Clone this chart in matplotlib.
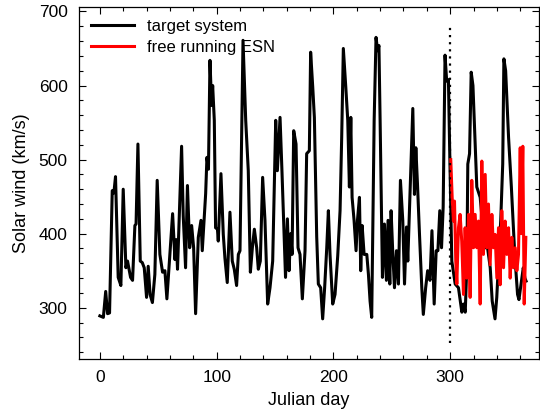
import matplotlib
matplotlib.use("Agg")
import matplotlib.pyplot as plt
from matplotlib.ticker import MultipleLocator

plt.rcParams['font.family'] = ['Liberation Sans', 'DejaVu Sans']

# target system (days, km/s)
days = [0, 3, 5, 6.6, 8.3, 10.6, 12, 13.4, 14.6, 15.7, 18, 20, 22.3, 23.7, 26.3, 28,
        30, 31, 32.6, 34.6, 36.3, 38, 40, 41.4, 43, 45, 47.1, 49.1, 51.4, 53.7, 55.7,
        57.4, 60, 62.3, 64.3, 65.5, 66.5, 70, 71.4, 73.4, 75, 76.9, 78.6, 80.3, 82,
        84.3, 86.6, 87.7, 90.6, 91.7, 93, 94.3, 95.7, 96.6, 98, 99.1, 100.7, 101.4,
        103.7, 105.7, 107.1, 109.1, 111.4, 113.4, 115.1, 117.1, 118.6, 120, 122.6,
        124.9, 127.1, 128.9, 130.6, 132.3, 134.3, 135.7, 137.4, 139.4, 141.4, 143.7,
        145.7, 148, 150.6, 152, 154.3, 156, 157.7, 159, 160.6, 162, 163.4, 164.6, 166,
        168, 169.7, 171.4, 173.4, 175.7, 177.1, 179.4, 180.5, 182.3, 183.7, 185.7,
        187.1, 189.1, 190.8, 192.5, 194.3, 195.7, 197.1, 199.4, 201.4, 203.7, 205.7,
        207.1, 208.5, 210.6, 212.3, 213.7, 214.9, 216, 217.7, 219.4, 220.6, 222.3,
        223.4, 224.6, 226.3, 228.6, 230, 231.4, 232.8, 234.9, 236.5, 237.9, 239, 240,
        242, 243.7, 245.4, 246.8, 248.3, 249.4, 250.9, 252.3, 254, 255.7, 257.4,
        259.4, 260.9, 262.6, 263.7, 268, 269.4, 270.6, 272, 273.7, 275.7, 277, 279,
        280.7, 282.7, 284.4, 286.3, 288, 289.5, 291.1, 292.6, 294, 295.6, 297, 298.5,
        299.5, 301.4, 304.3, 307.1, 310, 311.4, 312.9, 314.3, 315.1, 316.6, 318,
        319.5, 322.8, 325.7, 328, 330, 332, 334.3, 336, 338.4, 339.9, 341.6, 343.3,
        345, 346, 347.5, 350, 352.4, 355.3, 357.7, 358.9, 361.1, 362.6, 364, 365]
wind = [289, 287, 322, 292, 293, 458, 455, 477, 408, 341, 330, 460, 354, 363, 341, 337,
        411, 413, 521, 363, 361, 354, 314, 356, 318, 307, 345, 472, 372, 348, 350,
        312, 372, 427, 365, 392, 352, 518, 424, 354, 465, 381, 411, 381, 292,
        395, 418, 377, 454, 503, 487, 634, 573, 600, 553, 408, 406, 390,
        481, 399, 367, 334, 429, 363, 352, 330, 372, 377, 661,
        553, 485, 348, 381, 406, 381, 352, 363, 476, 418, 305,
        327, 363, 553, 485, 557, 482, 400, 341, 420, 350, 400, 372, 539,
        521, 381, 372, 312, 377, 508, 512, 645, 598, 557, 396,
        332, 327, 285, 327, 381, 431, 372, 305, 318, 370, 431,
        530, 650, 598, 553, 463, 557, 449, 418, 377, 418, 449,
        350, 411, 372, 372, 345, 309, 287, 553, 665, 647, 654, 553,
        341, 413, 337, 418, 332, 431, 372, 327, 377, 332, 472,
        418, 332, 409, 363, 569, 453, 516, 467, 400, 327, 291, 327,
        350, 337, 404, 305, 377, 377, 431, 381, 436, 641, 606, 608,
        520, 363, 332, 327, 294, 305, 294, 359, 494, 508, 618,
        600, 463, 449, 408, 381, 381, 354, 309, 285, 314, 368, 418,
        494, 636, 620, 530, 463, 372, 318, 311, 336, 354, 340, 336]

# free running ESN
esn_days = [300.5, 301.7, 302.8, 303.7, 304.8, 305.7, 307.1, 308.5, 309.9, 311.4, 312.8,
            314.2, 315.7, 317.1, 318.5, 320, 321.4, 322.8, 324.2, 325.7, 327.1, 328.5,
            330, 331.4, 332.8, 334.2, 335.7, 337.1, 338.5, 340, 341.4, 342.8, 344.2,
            345.7, 347.1, 348.5, 350, 351.4, 352.8, 354.2, 355.7, 357.1, 358.5, 360,
            360.8, 362.2, 363.4, 364.8]
esn_wind = [500, 449, 417, 444, 363, 332, 408, 426, 390, 318, 408, 340, 426, 314,
            472, 381, 426, 381, 417, 305, 498, 372, 480, 381, 440, 358, 426, 381,
            399, 340, 408, 331, 431, 354, 417, 372, 408, 340, 395, 354, 381, 350,
            372, 516, 400, 518, 305, 395]

split_day = 300

fig = plt.figure(figsize=(5.4, 4.12), dpi=100)
ax = fig.add_axes([0.146, 0.129, 0.852, 0.854])

ax.plot(days, wind, color='black', lw=2.2, label='target system')
ax.plot(esn_days, esn_wind, color='#ff0000', lw=2.2, label='free running ESN')
ax.plot([split_day, split_day], [252, 683], color='black', lw=1.6,
        linestyle=(0, (1, 2.2)))

ax.set_xlim(-18, 376)
ax.set_ylim(231, 706)
ax.xaxis.set_major_locator(MultipleLocator(100))
ax.xaxis.set_minor_locator(MultipleLocator(20))
ax.yaxis.set_major_locator(MultipleLocator(100))
ax.yaxis.set_minor_locator(MultipleLocator(20))
ax.tick_params(which='both', direction='in', top=True, right=True, labelsize=12.5,
               width=0.8)
ax.tick_params(which='major', length=5, pad=8)
ax.tick_params(which='minor', length=3)
for s in ax.spines.values():
    s.set_linewidth(0.9)

ax.set_xlabel('Julian day', fontsize=13, labelpad=5)
ax.set_ylabel('Solar wind (km/s)', fontsize=13, labelpad=6)

ax.legend(loc='upper left', frameon=False, fontsize=12, handlelength=2.6,
          borderaxespad=0.3, handletextpad=0.8, labelspacing=0.35)

fig.savefig('out.png', dpi=100)
